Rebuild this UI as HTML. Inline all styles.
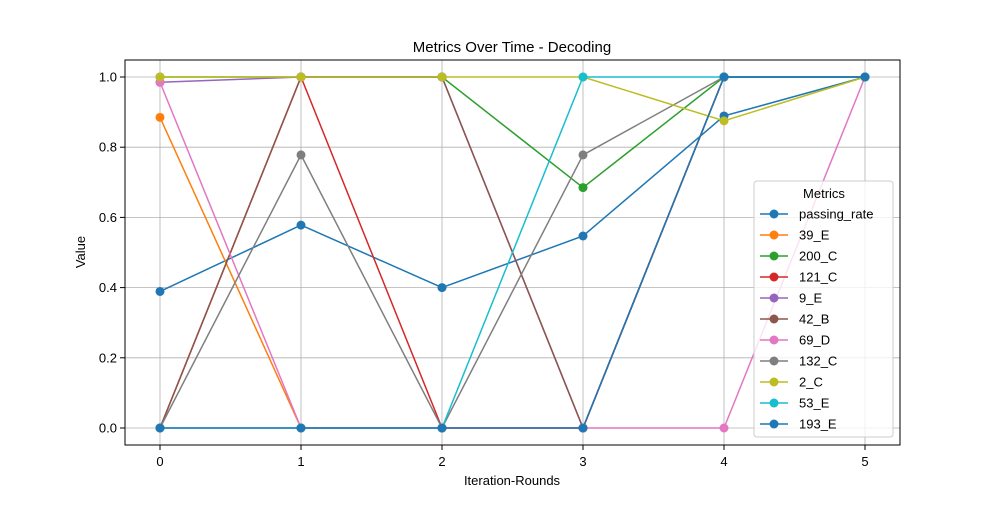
<!DOCTYPE html>
<html><head><meta charset="utf-8"><style>
body{margin:0;background:#fff}
svg text{font-family:"Liberation Sans","DejaVu Sans",sans-serif;fill:#000}
</style></head><body>
<svg id="chart" width="1000" height="500">
<text x="512" y="52" font-size="15" text-anchor="middle">Metrics Over Time - Decoding</text>
<g id="grid"></g><g id="series"></g>
<rect x="125" y="60" width="775" height="385" fill="none" stroke="#000" stroke-width="1"/>
<g id="ticks"></g>
<text x="512" y="485" font-size="13" text-anchor="middle">Iteration-Rounds</text>
<text x="85" y="252" font-size="13" text-anchor="middle" transform="rotate(-90 85 252)">Value</text>
<g id="legend"></g>
</svg>
<script>
const rounds=[0,1,2,3,4,5];
const yTicks=[0,0.2,0.4,0.6,0.8,1.0];
const names=["passing_rate","39_E","200_C","121_C","9_E","42_B","69_D","132_C","2_C","53_E","193_E"];
const colors=["#1f77b4","#ff7f0e","#2ca02c","#d62728","#9467bd","#8c564b","#e377c2","#7f7f7f","#bcbd22","#17becf","#1f77b4"];
const passing_rate=[0.389,0.578,0.40,0.547,0.889,1];
const s39_E=[0.885,0,0,0,1,1];
const s200_C=[1,1,1,0.685,1,1];
const s121_C=[0,1,0,0,1,1];
const s9_E=[0.985,1,1,0,1,1];
const s42_B=[0,1,1,0,1,1];
const s69_D=[0.985,0,0,0,0,1];
const s132_C=[0,0.778,0,0.778,1,1];
const s2_C=[1,1,1,1,0.875,1];
const s53_E=[0,0,0,1,1,1];
const s193_E=[0,0,0,0,1,1];
const series=[passing_rate,s39_E,s200_C,s121_C,s9_E,s42_B,s69_D,s132_C,s2_C,s53_E,s193_E];
const X=v=>160+141*v, Y=v=>428-351*v;
const NS="http://www.w3.org/2000/svg";
function mk(t,a,p){const e=document.createElementNS(NS,t);for(const k in a)e.setAttribute(k,a[k]);p.appendChild(e);return e;}
const grid=document.getElementById('grid'),ticks=document.getElementById('ticks');
rounds.forEach(r=>{
 const g=mk('line',{x1:X(r),x2:X(r),y1:60,y2:445,stroke:'#b0b0b0','stroke-width':0.8},grid);
 
 
 const t=mk('line',{x1:X(r),x2:X(r),y1:445,y2:450,stroke:'#000'},ticks);
 
 
 const l=mk('text',{x:X(r),y:466,'font-size':13,'text-anchor':'middle'},ticks);l.textContent=r;
 
 
});
yTicks.forEach(v=>{
 const g=mk('line',{x1:125,x2:900,y1:Y(v),y2:Y(v),stroke:'#b0b0b0','stroke-width':0.8},grid);
 
 
 const t=mk('line',{x1:120,x2:125,y1:Y(v),y2:Y(v),stroke:'#000'},ticks);
 
 
 const l=mk('text',{x:117,y:Y(v)+4.5,'font-size':13,'text-anchor':'end'},ticks);l.textContent=v.toFixed(1);
 
 
});
const sg=document.getElementById('series');
series.forEach((s,i)=>{
 const g=mk('g',{},sg);
 
 
 mk('polyline',{points:s.map((v,j)=>X(rounds[j])+','+Y(v)).join(' '),fill:'none',stroke:colors[i],'stroke-width':1.5},g);
 s.forEach((v,j)=>{const c=mk('circle',{cx:X(rounds[j]),cy:Y(v),r:4.5,fill:colors[i]},g);
  
  });
});
const lg=document.getElementById('legend');
const box=mk('rect',{x:754,y:181,width:139,height:256,rx:3,fill:'#fff','fill-opacity':0.8,stroke:'#ccc'},lg);


const lt=mk('text',{x:824,y:198,'font-size':13,'text-anchor':'middle'},lg);lt.textContent='Metrics';


names.forEach((n,i)=>{
 const y=214+21*i;
 const g=mk('g',{},lg);
 
 
 mk('line',{x1:760,x2:788,y1:y,y2:y,stroke:colors[i],'stroke-width':1.5},g);
 mk('circle',{cx:774,cy:y,r:4.5,fill:colors[i]},g);
 const t=mk('text',{x:799,y:y+4.5,'font-size':13},g);t.textContent=n;
});
</script>
</body></html>
